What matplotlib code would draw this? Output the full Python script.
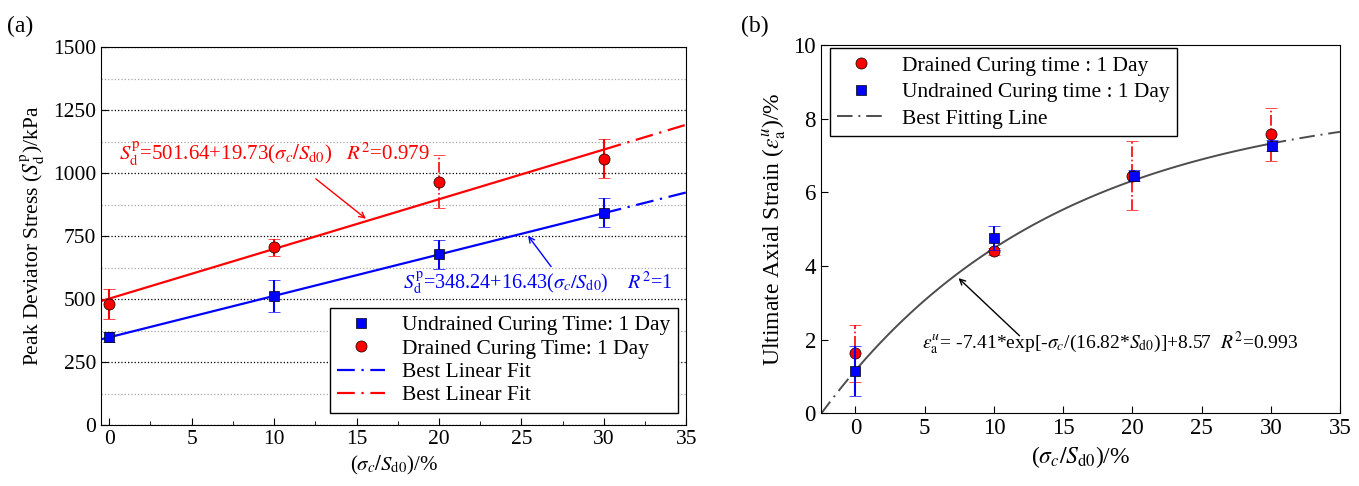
import numpy as np
import matplotlib
matplotlib.use("Agg")
import matplotlib.pyplot as plt
from matplotlib.ticker import MultipleLocator

plt.rcParams['font.family'] = ['Liberation Serif', 'DejaVu Serif']
plt.rcParams['mathtext.fontset'] = 'stix'
plt.rcParams['xtick.direction'] = 'in'
plt.rcParams['ytick.direction'] = 'in'

# ---- panel (a) data: peak deviator stress ----
x_a = [0, 10, 20, 30]
undrained_a = [348, 512, 677, 843]
undrained_a_err = [20, 63, 57, 57]
drained_a = [480, 705, 965, 1057]
drained_a_err = [60, 35, 105, 78]
fit_a_red = (501.64, 19.73)
fit_a_blue = (348.24, 16.43)

# ---- panel (b) data: ultimate axial strain ----
x_b_dr = [0, 10, 20, 30]
drained_b = [1.62, 4.40, 6.45, 7.58]
drained_b_err = [0.78, 0.10, 0.94, 0.72]
x_b_un = [0, 10, 20.1, 30.1]
undrained_b = [1.15, 4.75, 6.45, 7.27]
undrained_b_err = [0.68, 0.33, 0.15, 0.15]
fit_b = (-7.41, 16.82, 8.57)

fig = plt.figure(figsize=(13.59, 4.86), dpi=100)
ax1 = fig.add_axes([0.0743, 0.1255, 0.4307, 0.7775])
ax2 = fig.add_axes([0.604, 0.150, 0.382, 0.757])

fs = 15
dashdot = (0, (8, 3, 1, 3))

# ---------------- (a) ----------------
ax1.set_xlim(-0.5, 35)
ax1.set_ylim(0, 1500)
ax1.xaxis.set_major_locator(MultipleLocator(5))
ax1.xaxis.set_minor_locator(MultipleLocator(2.5))
ax1.yaxis.set_major_locator(MultipleLocator(250))
ax1.yaxis.set_minor_locator(MultipleLocator(125))
ax1.tick_params(which='major', length=5, labelsize=fs + 0.5)
ax1.tick_params(axis='x', which='minor', length=3)
ax1.tick_params(axis='y', which='minor', length=0)
ax1.grid(axis='y', which='major', ls=':', color='k', lw=0.9)
ax1.grid(axis='y', which='minor', ls=':', color='0.65', lw=0.9)
ax1.set_axisbelow(True)

xs = np.linspace(-0.5, 30, 50)
xe = np.linspace(30, 35, 10)
for (b0, b1), c in [(fit_a_red, 'red'), (fit_a_blue, 'blue')]:
    ax1.plot(xs, b0 + b1 * xs, color=c, lw=1.6)
    ax1.plot(xe, b0 + b1 * xe, color=c, lw=1.6, ls=dashdot)

eb = ax1.errorbar(x_a, undrained_a, yerr=undrained_a_err, fmt='s', color='blue',
                  mec='k', mew=0.5, ms=7, capsize=4, elinewidth=1.5, capthick=1.5, zorder=5)
er = ax1.errorbar(x_a, drained_a, yerr=drained_a_err, fmt='o', color='red',
                  mec='k', mew=0.5, ms=8, capsize=4, elinewidth=1.5, capthick=1.5, zorder=5)
segs = er[2][0].get_segments()
er[2][0].set_segments([s for i, s in enumerate(segs) if i != 2])
ax1.plot([x_a[2], x_a[2]], [drained_a[2] - drained_a_err[2], drained_a[2] + drained_a_err[2]],
         color='red', lw=1.2, ls='-.', zorder=4)

ax1.text(0.6, 1050, r'$S_{\mathrm{d}}^{\mathrm{p}}$=501.64+19.73($\sigma_{c}/S_{\mathrm{d0}}$)   $R^{2}$=0.979',
         color='red', fontsize=fs)
ax1.annotate('', xy=(15.7, 812), xytext=(12.4, 984),
             arrowprops=dict(arrowstyle='->', color='red', lw=1))
ax1.text(17.8, 540, r'$S_{\mathrm{d}}^{\mathrm{p}}$=348.24+16.43($\sigma_{c}/S_{\mathrm{d0}}$)    $R^{2}$=1',
         color='blue', fontsize=fs - 0.5)
ax1.annotate('', xy=(25.3, 760), xytext=(26.9, 620),
             arrowprops=dict(arrowstyle='->', color='blue', lw=1))

h1 = ax1.plot([], [], 's', color='blue', mec='k', mew=0.5, ms=7)[0]
h2 = ax1.plot([], [], 'o', color='red', mec='k', mew=0.5, ms=8)[0]
h3 = ax1.plot([], [], color='blue', lw=1.6, ls=dashdot)[0]
h4 = ax1.plot([], [], color='red', lw=1.6, ls=dashdot)[0]
leg = ax1.legend([h1, h2, h3, h4],
                 ['Undrained Curing Time: 1 Day', 'Drained Curing Time: 1 Day',
                  'Best Linear Fit', 'Best Linear Fit'],
                 loc='lower right', bbox_to_anchor=(0.985, 0.032), fontsize=fs + 0.5,
                 fancybox=False, edgecolor='k', framealpha=1, labelspacing=0.15,
                 handlelength=2.2, borderpad=0.35, borderaxespad=0)
leg.get_frame().set_linewidth(1)

ax1.set_xlabel(r'($\sigma_{c}/S_{\mathrm{d0}}$)/%', fontsize=fs)
ax1.set_ylabel(r'Peak Deviator Stress ($S_{\mathrm{d}}^{\mathrm{p}}$)/kPa', fontsize=fs + 0.5)
fig.text(0.005, 0.935, '(a)', fontsize=fs + 2)

# ---------------- (b) ----------------
ax2.set_xlim(-2.5, 35)
ax2.set_ylim(0, 10)
ax2.xaxis.set_major_locator(MultipleLocator(5))
ax2.yaxis.set_major_locator(MultipleLocator(2))
ax2.tick_params(which='major', length=5, labelsize=fs + 1.5)

a, t, c0 = fit_b
xs = np.linspace(0, 30, 100)
ax2.plot(xs, a * np.exp(-xs / t) + c0, color='0.3', lw=1.4)
for lo, hi in [(-2.5, 0), (30, 35)]:
    xx = np.linspace(lo, hi, 30)
    ax2.plot(xx, a * np.exp(-xx / t) + c0, color='0.3', lw=1.4, ls=dashdot)

e1 = ax2.errorbar(x_b_dr, drained_b, yerr=drained_b_err, fmt='o', color='red',
                  mec='k', mew=0.5, ms=8, capsize=4, elinewidth=1.2, capthick=1.5, zorder=5)
e1[2][0].set_linestyle('-.')
e2 = ax2.errorbar(x_b_un, undrained_b, yerr=undrained_b_err, fmt='s', color='blue',
                  mec='k', mew=0.5, ms=7, capsize=4, elinewidth=1.5, capthick=1.5, zorder=6)

ax2.text(4.8, 1.75, r'$\varepsilon_{\mathrm{a}}^{u}$= -7.41*exp[-$\sigma_{c}$/(16.82*$S_{\mathrm{d0}}$)]+8.57  $R^{2}$=0.993',
         fontsize=fs - 1)
ax2.annotate('', xy=(7.3, 3.72), xytext=(12.0, 2.05),
             arrowprops=dict(arrowstyle='->', color='k', lw=1))

g1 = ax2.plot([], [], 'o', color='red', mec='k', mew=0.5, ms=8)[0]
g2 = ax2.plot([], [], 's', color='blue', mec='k', mew=0.5, ms=7)[0]
g3 = ax2.plot([], [], color='0.3', lw=1.4, ls=dashdot)[0]
leg2 = ax2.legend([g1, g2, g3],
                  ['Drained Curing time : 1 Day', 'Undrained Curing time : 1 Day',
                   'Best Fitting Line'],
                  loc='upper left', bbox_to_anchor=(0.017, 0.992), fontsize=fs + 0.5,
                  fancybox=False, edgecolor='k', framealpha=1, labelspacing=0.3,
                  handlelength=2.2, borderpad=0.35, borderaxespad=0)
leg2.get_frame().set_linewidth(1)

ax2.set_xlabel(r'($\sigma_{c}/S_{\mathrm{d0}}$)/%', fontsize=fs + 2)
ax2.set_ylabel(r'Ultimate Axial Strain ($\varepsilon_{\mathrm{a}}^{u}$)/%', fontsize=fs + 2)
fig.text(0.545, 0.935, '(b)', fontsize=fs + 2)

fig.savefig('out.png', dpi=100)
